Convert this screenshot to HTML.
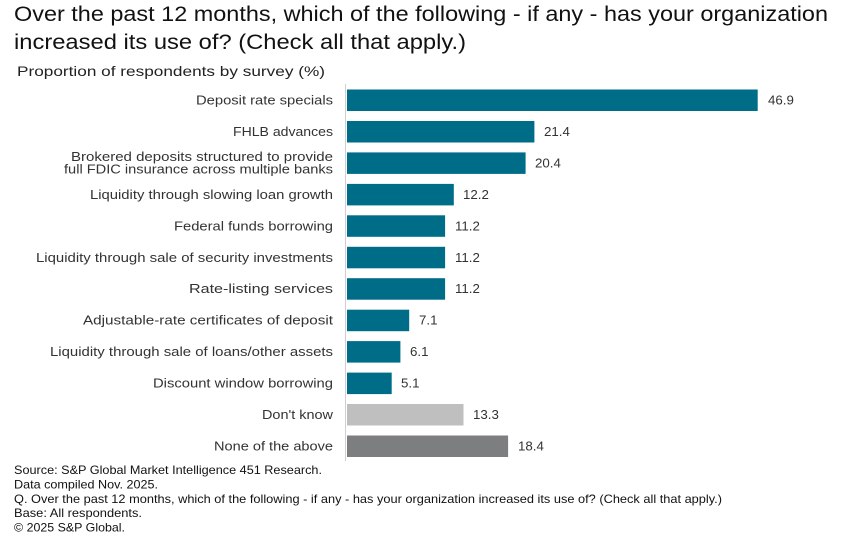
<!DOCTYPE html>
<html><head><meta charset="utf-8"><style>
html,body{margin:0;padding:0;background:#fff;}
svg{display:block;}
text{font-family:"Liberation Sans",Arial,sans-serif;}
</style></head><body>
<svg width="850" height="537" viewBox="0 0 850 537" xmlns="http://www.w3.org/2000/svg">
<rect width="850" height="537" fill="#fff"/>
<text x="14" y="21" font-size="21" fill="#111" textLength="814" lengthAdjust="spacingAndGlyphs">Over the past 12 months, which of the following - if any - has your organization</text>
<text x="14" y="49" font-size="21" fill="#111" textLength="452" lengthAdjust="spacingAndGlyphs">increased its use of? (Check all that apply.)</text>
<text x="17" y="76" font-size="14" fill="#222" textLength="308" lengthAdjust="spacingAndGlyphs">Proportion of respondents by survey (%)</text>

<line x1="345.5" y1="84" x2="345.5" y2="461" stroke="#cfcfcf" stroke-width="1"/>

<g font-size="13.3" fill="#333" text-anchor="end">
<text x="333" y="104.5" textLength="137" lengthAdjust="spacingAndGlyphs">Deposit rate specials</text>
<text x="333" y="136" textLength="100" lengthAdjust="spacingAndGlyphs">FHLB advances</text>
<text x="333" y="161" textLength="262" lengthAdjust="spacingAndGlyphs">Brokered deposits structured to provide</text>
<text x="333" y="173.5" textLength="269" lengthAdjust="spacingAndGlyphs">full FDIC insurance across multiple banks</text>
<text x="333" y="199" textLength="243" lengthAdjust="spacingAndGlyphs">Liquidity through slowing loan growth</text>
<text x="333" y="230.3" textLength="159" lengthAdjust="spacingAndGlyphs">Federal funds borrowing</text>
<text x="333" y="261.8" textLength="297" lengthAdjust="spacingAndGlyphs">Liquidity through sale of security investments</text>
<text x="333" y="293.2" textLength="144" lengthAdjust="spacingAndGlyphs">Rate-listing services</text>
<text x="333" y="324.7" textLength="250" lengthAdjust="spacingAndGlyphs">Adjustable-rate certificates of deposit</text>
<text x="333" y="356.1" textLength="283" lengthAdjust="spacingAndGlyphs">Liquidity through sale of loans/other assets</text>
<text x="333" y="387.6" textLength="180" lengthAdjust="spacingAndGlyphs">Discount window borrowing</text>
<text x="333" y="419" textLength="71" lengthAdjust="spacingAndGlyphs">Don't know</text>
<text x="333" y="450.5" textLength="119" lengthAdjust="spacingAndGlyphs">None of the above</text>
</g>

<g fill="#006d88">
<rect x="347" y="89.5" width="410.7" height="21.5"/>
<rect x="347" y="121" width="187.4" height="21.5"/>
<rect x="347" y="152.4" width="178.6" height="21.5"/>
<rect x="347" y="183.9" width="106.8" height="21.5"/>
<rect x="347" y="215.3" width="98.1" height="21.5"/>
<rect x="347" y="246.8" width="98.1" height="21.5"/>
<rect x="347" y="278.2" width="98.1" height="21.5"/>
<rect x="347" y="309.7" width="62.2" height="21.5"/>
<rect x="347" y="341.1" width="53.4" height="21.5"/>
<rect x="347" y="372.6" width="44.7" height="21.5"/>
</g>
<rect x="347" y="404" width="116.5" height="21.5" fill="#bfbfbf"/>
<rect x="347" y="435.5" width="161.1" height="21.5" fill="#7d7e80"/>

<g font-size="13.3" fill="#333">
<text x="768" y="104.5">46.9</text>
<text x="544" y="136">21.4</text>
<text x="535" y="167.4">20.4</text>
<text x="463" y="198.9">12.2</text>
<text x="455" y="230.3">11.2</text>
<text x="455" y="261.8">11.2</text>
<text x="455" y="293.2">11.2</text>
<text x="419" y="324.7">7.1</text>
<text x="410" y="356.1">6.1</text>
<text x="401" y="387.6">5.1</text>
<text x="473" y="419">13.3</text>
<text x="518" y="450.5">18.4</text>
</g>

<g font-size="11.6" fill="#111">
<text x="14" y="474" textLength="308" lengthAdjust="spacingAndGlyphs">Source: S&amp;P Global Market Intelligence 451 Research.</text>
<text x="14" y="488.5" textLength="144" lengthAdjust="spacingAndGlyphs">Data compiled Nov. 2025.</text>
<text x="14" y="503" textLength="708" lengthAdjust="spacingAndGlyphs">Q. Over the past 12 months, which of the following - if any - has your organization increased its use of? (Check all that apply.)</text>
<text x="14" y="517" textLength="128" lengthAdjust="spacingAndGlyphs">Base: All respondents.</text>
<text x="14" y="531.5" textLength="111" lengthAdjust="spacingAndGlyphs">© 2025 S&amp;P Global.</text>
</g>
</svg>
</body></html>
